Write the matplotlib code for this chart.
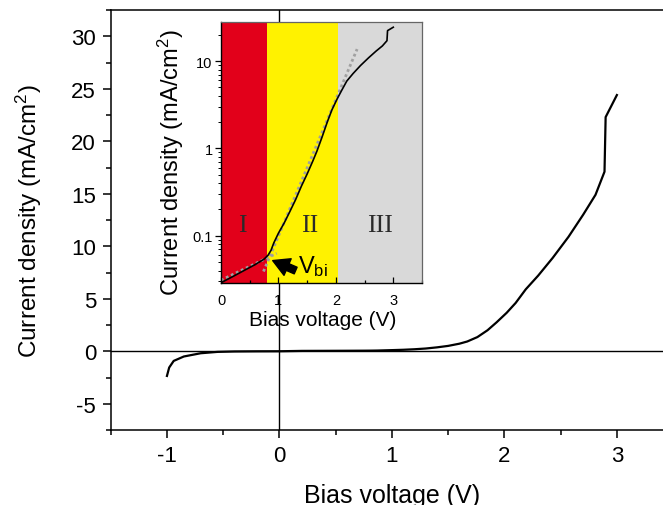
import matplotlib
matplotlib.use("Agg")
import matplotlib.pyplot as plt
import numpy as np
from matplotlib.ticker import MultipleLocator, FixedLocator, LogLocator, NullFormatter, FuncFormatter

plt.rcParams['font.family'] = ['Liberation Sans', 'DejaVu Sans']
plt.rcParams['mathtext.fontset'] = 'custom'
plt.rcParams['mathtext.rm'] = 'Liberation Sans'
plt.rcParams['mathtext.it'] = 'Liberation Sans:italic'

# ---- data ----
# reverse-bias branch (V, mA/cm^2)
v_rev = [-1.00, -0.98, -0.94, -0.85, -0.70, -0.55, -0.40, -0.20, 0.00]
j_rev = [-2.35, -1.55, -0.92, -0.50, -0.19, -0.06, -0.02, -0.005, 0.00]
# forward-bias branch (V, mA/cm^2)
v_fwd = [0.00, 0.20, 0.40, 0.60, 0.75, 0.82, 0.87, 0.92, 1.00, 1.10, 1.20, 1.30,
         1.40, 1.50, 1.60, 1.67, 1.76, 1.85, 1.93, 2.02, 2.10, 2.19, 2.30, 2.43,
         2.57, 2.70, 2.81, 2.89, 2.90, 3.00]
j_fwd = [0.029, 0.034, 0.040, 0.047, 0.054, 0.060, 0.068, 0.083, 0.107, 0.14, 0.19, 0.26,
         0.37, 0.51, 0.72, 0.93, 1.35, 2.0, 2.75, 3.66, 4.6, 5.9, 7.2, 8.9,
         10.9, 13.0, 14.9, 17.1, 22.3, 24.4]
# fit lines in the inset
fit1_v = [0.00, 0.97]
fit1_j = [0.031, 0.063]
fit2_v = [0.74, 2.37]
fit2_j = [0.039, 13.7]
# regions
region_edges = [0.0, 0.8, 2.03, 3.5]
region_colors = ['#E2001A', '#FFF200', '#D9D9D9']
region_labels = ['I', 'II', 'III']
region_label_x = [0.37, 1.55, 2.76]
region_label_y = 0.134
vbi_point = (0.90, 0.052)
vbi_tail = (1.30, 0.040)

W, H = 663, 506
fig = plt.figure(figsize=(W / 100, H / 100), dpi=100)
fmt = FuncFormatter(lambda v, p: f"{v:g}")

# ---- main axes ----
L, B_, T = 110.7, 431, 11
ax = fig.add_axes([L / W, (H - B_) / H, 1 - L / W, (B_ - T) / H])
ax.set_xlim(-1.5, 3.41)
ax.set_ylim(-7.5, 32.5)
ax.axhline(0, color='black', lw=1.0, zorder=1)
ax.axvline(0, color='black', lw=1.0, zorder=1)
ax.plot(v_rev + v_fwd[1:], j_rev + j_fwd[1:], color='black', lw=1.6, zorder=2)
ax.spines['right'].set_visible(False)
for s in ['left', 'bottom', 'top']:
    ax.spines[s].set_linewidth(1.1)
ax.xaxis.set_major_locator(MultipleLocator(1))
ax.xaxis.set_minor_locator(MultipleLocator(0.5))
ax.yaxis.set_major_locator(MultipleLocator(5))
ax.yaxis.set_minor_locator(MultipleLocator(2.5))
ax.tick_params(which='major', direction='out', length=6, width=1.1, labelsize=16, pad=4.5)
ax.tick_params(which='minor', direction='out', length=3.4, width=1.1)
ax.tick_params(top=False, right=False)
ax.xaxis.set_major_formatter(fmt)
ax.yaxis.set_major_formatter(fmt)
ax.set_xlabel('Bias voltage (V)', fontsize=18)
ax.set_ylabel('Current density (mA/cm$^2$)', fontsize=17.5)
ax.xaxis.set_label_coords((392 - L) / (W - L), (B_ - 484) / (B_ - T))
ax.yaxis.set_label_coords((44 - L) / (W - L), 0.5)

# ---- inset ----
iL, iR, iT, iB = 221, 422, 23, 284
ins = fig.add_axes([iL / W, (H - iB) / H, (iR - iL) / W, (iB - iT) / H])
ins.set_xlim(0, 3.5)
ins.set_yscale('log')
ins.set_ylim(0.0288, 28.0)
for k in range(3):
    ins.axvspan(region_edges[k], region_edges[k + 1], color=region_colors[k], lw=0, zorder=0)
for k in range(3):
    ins.text(region_label_x[k], region_label_y, region_labels[k], family='Liberation Serif',
             fontsize=18.5, color='#2a2a2a', ha='center', va='center', zorder=3)
ins.plot(fit1_v, fit1_j, color='#a0a0a0', lw=2.0, ls=(0, (1, 1)), zorder=2)
ins.plot(fit2_v, fit2_j, color='#a0a0a0', lw=2.0, ls=(0, (1, 1)), zorder=2)
ins.plot(v_fwd, j_fwd, color='black', lw=1.2, zorder=3)
ins.annotate('', xy=vbi_point, xytext=vbi_tail,
             arrowprops=dict(arrowstyle='simple,head_length=0.9,head_width=1.0,tail_width=0.4',
                             fc='black', ec='black', mutation_scale=13, shrinkA=0, shrinkB=0),
             zorder=4)
ins.text(1.34, 0.046, 'V$_{\\mathrm{bi}}$', fontsize=17, ha='left', va='center', zorder=4)
for s in ['top', 'right']:
    ins.spines[s].set_color('#666666')
    ins.spines[s].set_linewidth(0.9)
for s in ['left', 'bottom']:
    ins.spines[s].set_linewidth(1.0)
ins.xaxis.set_major_locator(MultipleLocator(1))
ins.xaxis.set_minor_locator(MultipleLocator(0.5))
ins.yaxis.set_major_locator(FixedLocator([0.1, 1, 10]))
ins.yaxis.set_minor_locator(LogLocator(base=10, subs=np.arange(2, 10), numticks=20))
ins.yaxis.set_minor_formatter(NullFormatter())
ins.yaxis.set_major_formatter(fmt)
ins.xaxis.set_major_formatter(fmt)
ins.tick_params(axis='x', which='major', direction='in', length=4, width=0.9, labelsize=10.5, pad=7)
ins.tick_params(axis='x', which='minor', direction='in', length=2.5, width=0.9)
ins.tick_params(axis='y', which='major', direction='out', length=4, width=0.9, labelsize=10.5, pad=2)
ins.tick_params(axis='y', which='minor', direction='out', length=2.2, width=0.7)
ins.set_xlabel('Bias voltage (V)', fontsize=15)
ins.set_ylabel('Current density (mA/cm$^2$)', fontsize=17)
ins.xaxis.set_label_coords(0.505, (iB - 311) / (iB - iT))
ins.yaxis.set_label_coords((186 - iL) / (iR - iL), 0.465)

fig.savefig('out.png', dpi=100)
